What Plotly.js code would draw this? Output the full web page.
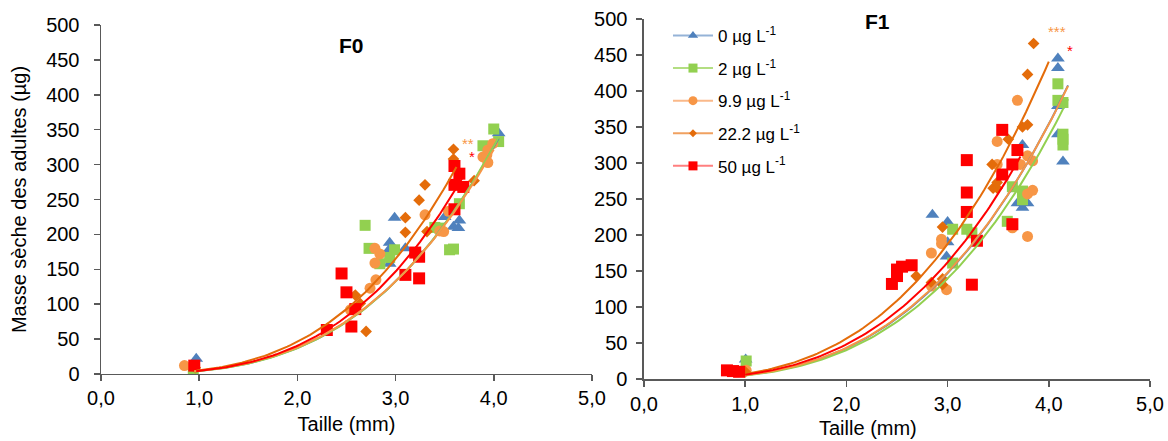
<!DOCTYPE html>
<html><head><meta charset="utf-8">
<script src="https://cdn.plot.ly/plotly-3.0.1.min.js"></script>
<style>html,body{margin:0;padding:0;background:#fff}#chart{width:1168px;height:441px}</style>
</head><body><div id="chart"></div>
<script>
// ---------- labels ----------
const seriesNames = ['0 µg L<sup>-1</sup>', '2 µg L<sup>-1</sup>', '9.9 µg L<sup>-1</sup>', '22.2 µg L<sup>-1</sup>', '50 µg L<sup>-1</sup>'];
const xTickVals = [0, 1, 2, 3, 4, 5];
const xTickText = ['0,0', '1,0', '2,0', '3,0', '4,0', '5,0'];
const yTickVals = [0, 50, 100, 150, 200, 250, 300, 350, 400, 450, 500];
const xTitle = 'Taille (mm)';
const yTitle = 'Masse sèche des adultes (µg)';
const panelTitles = ['F0', 'F1'];

// ---------- F0 data ----------
const f0X0 = [0.97, 2.94, 2.94, 2.94, 2.99, 3.10, 3.50, 3.59, 3.64, 3.65, 4.05];
const f0Y0 = [22, 188, 179, 158, 224, 180, 225, 211, 209, 220, 345];
const f0X2 = [0.94, 2.69, 2.73, 2.84, 2.94, 2.99, 3.40, 3.45, 3.55, 3.59, 3.65, 3.89, 4.00, 4.05];
const f0Y2 = [3, 213, 180, 158, 167, 178, 210, 209, 178, 179, 244, 327, 351, 333];
const f0X99 = [0.85, 2.54, 2.74, 2.80, 2.79, 2.79, 2.84, 3.30, 3.45, 3.49, 3.54, 3.89, 3.93, 3.94, 3.94, 3.99];
const f0Y99 = [12, 92, 123, 135, 159, 180, 172, 228, 205, 204, 233, 311, 314, 321, 303, 330];
const f0X222 = [0.96, 2.59, 2.64, 2.70, 3.10, 3.10, 3.24, 3.30, 3.32, 3.59, 3.59, 3.80];
const f0Y222 = [9, 113, 101, 61, 224, 203, 249, 271, 204, 322, 308, 277];
const f0X50 = [0.95, 2.30, 2.45, 2.50, 2.55, 2.59, 3.10, 3.20, 3.24, 3.24, 3.60, 3.65, 3.60, 3.69, 3.60];
const f0Y50 = [12, 63, 144, 117, 68, 93, 142, 174, 168, 137, 298, 287, 271, 268, 236];

// ---------- F1 data ----------
const f1X0 = [1.005, 2.85, 3.00, 3.00, 2.99, 3.69, 3.74, 3.79, 3.74, 4.09, 4.09, 4.09, 4.09, 4.14];
const f1Y0 = [27, 228, 218, 190, 170, 244, 238, 244, 325, 445, 432, 379, 340, 302];
const f1X2 = [1.01, 3.05, 3.19, 3.24, 3.05, 3.59, 3.64, 3.74, 3.74, 4.09, 4.09, 4.14, 4.14, 4.14, 4.14];
const f1Y2 = [25, 208, 208, 203, 161, 219, 267, 261, 249, 410, 387, 384, 340, 333, 325];
const f1X99 = [1.01, 2.84, 2.84, 2.94, 2.94, 2.99, 3.49, 3.49, 3.64, 3.69, 3.72, 3.79, 3.79, 3.79, 3.84, 3.84];
const f1Y99 = [12, 175, 129, 194, 188, 124, 330, 298, 210, 387, 298, 310, 257, 198, 303, 262];
const f1X222 = [1.00, 2.69, 2.84, 2.95, 2.95, 2.95, 3.44, 3.45, 3.49, 3.49, 3.60, 3.74, 3.79, 3.79, 3.85];
const f1Y222 = [10, 143, 134, 211, 139, 131, 298, 265, 265, 273, 333, 350, 353, 423, 466];
const f1X50 = [0.82, 0.88, 0.94, 2.45, 2.50, 2.50, 2.55, 2.645, 3.19, 3.19, 3.19, 3.24, 3.29, 3.54, 3.54, 3.64, 3.64, 3.69];
const f1Y50 = [12, 11, 10, 132, 143, 152, 156, 158, 304, 259, 232, 131, 192, 346, 284, 298, 215, 318];

// ---------- power trendlines y = a * x^b (coefficients) ----------
const f0FitA = [4.3, 4.2, 4.5, 5.25, 4.46];
const f0FitB = [3.12, 3.14, 3.08, 3.136, 3.18];
const f0FitStart = [0.97, 0.95, 0.95, 0.97, 0.97];
const f0FitEnd = [4.05, 4.05, 4.0, 3.62, 3.69];
const f1FitA = [5.16, 4.78, 5.3, 7.08, 6.0];
const f1FitB = [3.05, 3.07, 3.03, 2.98, 3.0];
const f1FitStart = [1.0, 1.0, 1.0, 1.0, 1.0];
const f1FitEnd = [4.19, 4.19, 4.19, 4.0, 3.72];

// ---------- significance marks ----------
const starText = ['**', '*', '***', '*'];
const starX = [3.74, 3.78, 4.08, 4.21];
const starY = [330, 312, 482, 456];
const starPanel = [0, 0, 1, 1];
const starSeries = [3, 4, 3, 4];

// ---------- styles ----------
const markerColors = ['#4F81BD', '#92D050', '#F79646', '#E46C0A', '#FF0000'];
const lineColors = ['#4A7EBB', '#92D050', '#F79646', '#E46C0A', '#FF0000'];
const legendLineColors = ['#95B3D7', '#B3DE82', '#FAB98A', '#F0A160', '#FF7F7F'];
const symbols = ['triangle-up', 'square', 'circle', 'diamond', 'square'];
const sizes = [12, 11, 11, 9, 12];
const legendSizes = [9, 9, 9, 6, 9];
const starColors = ['#F79646', '#FF0000'];

const font = 'Liberation Sans, Arial, sans-serif';

const panels = [
  {xs: [f0X0, f0X2, f0X99, f0X222, f0X50], ys: [f0Y0, f0Y2, f0Y99, f0Y222, f0Y50],
   a: f0FitA, b: f0FitB, s: f0FitStart, e: f0FitEnd, xa: 'x', ya: 'y'},
  {xs: [f1X0, f1X2, f1X99, f1X222, f1X50], ys: [f1Y0, f1Y2, f1Y99, f1Y222, f1Y50],
   a: f1FitA, b: f1FitB, s: f1FitStart, e: f1FitEnd, xa: 'x2', ya: 'y2'}
];

const traces = [];
panels.forEach(p => {
  for (let i = 0; i < 5; i++) {
    traces.push({
      type: 'scatter', mode: 'markers', x: p.xs[i], y: p.ys[i], xaxis: p.xa, yaxis: p.ya,
      showlegend: false, hoverinfo: 'x+y',
      marker: {symbol: symbols[i], color: markerColors[i], size: sizes[i], line: {width: 0}}
    });
  }
});
panels.forEach(p => {
  for (let i = 0; i < 5; i++) {
    const n = 80, cx = [], cy = [];
    for (let k = 0; k <= n; k++) {
      const xv = p.s[i] + (p.e[i] - p.s[i]) * k / n;
      cx.push(xv); cy.push(p.a[i] * Math.pow(xv, p.b[i]));
    }
    traces.push({
      type: 'scatter', mode: 'lines', x: cx, y: cy, xaxis: p.xa, yaxis: p.ya,
      showlegend: false, hoverinfo: 'skip',
      line: {color: lineColors[i], width: 2}
    });
  }
});
for (let i = 0; i < 5; i++) {
  traces.push({
    type: 'scatter', mode: 'lines+markers', x: [null], y: [null], xaxis: 'x2', yaxis: 'y2',
    name: seriesNames[i], legendgroup: 'g' + i, showlegend: true,
    line: {color: legendLineColors[i], width: 2},
    marker: {symbol: symbols[i], color: markerColors[i], size: legendSizes[i]}
  });
}

const axisBase = {
  range: [0, 5], showline: true, linecolor: '#595959', linewidth: 1.5,
  ticks: 'outside', ticklen: 6, tickcolor: '#595959', tickwidth: 1.5,
  showgrid: false, zeroline: false, fixedrange: true,
  tickfont: {family: font, size: 20, color: '#000'}
};
const xBase = Object.assign({}, axisBase, {tickvals: xTickVals, ticktext: xTickText});
const yBase = Object.assign({}, axisBase, {range: [0, 500], tickvals: yTickVals});

const annotations = [];
starText.forEach((t, k) => {
  annotations.push({
    text: t, x: starX[k], y: starY[k], xref: starPanel[k] ? 'x2' : 'x', yref: starPanel[k] ? 'y2' : 'y',
    showarrow: false, font: {family: font, size: 15, color: starColors[starSeries[k] === 3 ? 0 : 1]}
  });
});
annotations.push({text: '<b>' + panelTitles[0] + '</b>', x: 2.55, y: 470, xref: 'x', yref: 'y',
  showarrow: false, font: {family: font, size: 21, color: '#000'}});
annotations.push({text: '<b>' + panelTitles[1] + '</b>', x: 2.31, y: 496, xref: 'x2', yref: 'y2',
  showarrow: false, font: {family: font, size: 21, color: '#000'}});
annotations.push({text: xTitle, x: 0.7312, y: -0.136, xref: 'paper', yref: 'paper',
  xanchor: 'center', yanchor: 'middle', showarrow: false, font: {family: font, size: 20, color: '#000'}});

const layout = {
  width: 1168, height: 441,
  margin: {l: 101, r: 18, t: 19, b: 62},
  paper_bgcolor: '#fff', plot_bgcolor: '#fff',
  font: {family: font, color: '#000'},
  xaxis: Object.assign({}, xBase, {domain: [0, 0.468], anchor: 'y',
    title: {text: xTitle, font: {family: font, size: 20, color: '#000'}, standoff: 8}}),
  yaxis: Object.assign({}, yBase, {domain: [0.0139, 0.9833], anchor: 'x', ticklabelstandoff: 10,
    title: {text: yTitle, font: {family: font, size: 20, color: '#000'}, standoff: 14}}),
  xaxis2: Object.assign({}, xBase, {domain: [0.5176, 1], anchor: 'y2'}),
  yaxis2: Object.assign({}, yBase, {domain: [0, 1], anchor: 'x2', ticklabelstandoff: 5}),
  showlegend: true,
  legend: {x: 0.5405, y: 1.003, xanchor: 'left', yanchor: 'top', bgcolor: 'rgba(0,0,0,0)',
    font: {family: font, size: 17, color: '#000'}, tracegroupgap: 7.5, itemwidth: 40},
  annotations: annotations
};

Plotly.newPlot('chart', traces, layout, {displayModeBar: false, staticPlot: true});
</script>
</body></html>
